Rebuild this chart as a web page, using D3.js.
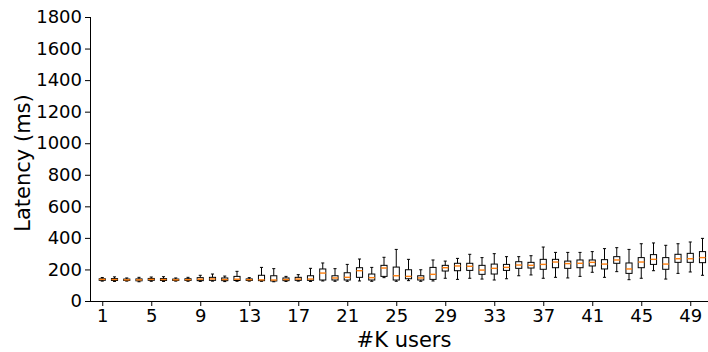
<!DOCTYPE html>
<html>
<head>
<meta charset="utf-8">
<script src="https://cdn.jsdelivr.net/npm/d3@7"></script>
<style>
  html, body { margin: 0; padding: 0; background: #fff; }
  svg { display: block; font-family: "DejaVu Sans", sans-serif; }
</style>
</head>
<body>
<svg id="chart" width="708" height="352"></svg>
<script>
// Data (ms) per #K users, 1..50
const users = d3.range(1, 51);
const whiskerLow = [126,124,126,122,125,124,126,125,124,126,123,125,126,125,122,124,126,124,127,125,125,127,125,148,125,129,125,127,144,137,144,139,133,141,160,165,144,150,146,156,182,150,186,135,144,192,139,175,184,163];
const q1 =         [131,130,130,128,131,130,130,130,129,131,129,130,130,129,127,129,131,131,133,133,133,150,133,156,133,141,133,137,190,192,194,169,171,194,207,209,201,211,207,211,222,203,239,175,211,232,201,245,245,243];
const median =     [137,136,134,134,137,136,134,135,138,140,136,138,135,134,133,136,139,139,177,146,150,192,148,209,160,156,146,169,211,222,220,196,207,213,228,226,232,247,237,239,245,234,260,203,247,264,234,268,268,275];
const q3 =         [141,142,139,140,143,142,139,141,148,150,146,156,140,163,160,146,150,160,203,160,179,211,171,226,215,198,160,213,226,239,239,226,234,232,249,245,264,264,253,260,260,262,281,241,275,294,275,296,302,313];
const whiskerHigh =[149,153,146,150,152,154,146,150,163,171,158,188,148,213,205,156,167,207,241,205,232,266,213,277,327,264,198,260,253,270,296,275,300,281,281,287,342,308,308,308,313,332,338,327,363,368,353,363,374,397];
const xTicks = [1,5,9,13,17,21,25,29,33,37,41,45,49];
const yTicks = [0,200,400,600,800,1000,1200,1400,1600,1800];

const data = users.map((u, i) => ({
  u, lo: whiskerLow[i], q1: q1[i], med: median[i], q3: q3[i], hi: whiskerHigh[i]
}));

const svg = d3.select("#chart");
const mLeft = 90, mBottom = 301, mTop = 17;
const unit = 12.25;
const x = d3.scaleLinear().domain([0, 51]).range([mLeft, mLeft + 51 * unit]);
const y = d3.scaleLinear().domain([0, 1800]).range([mBottom, mTop]);

const boxW = 0.5 * unit;
const capW = boxW / 2;

const g = svg.append("g");
const boxes = g.selectAll("g.box").data(data).enter().append("g").attr("class", "box");

// whiskers
boxes.append("line")
  .attr("x1", d => x(d.u)).attr("x2", d => x(d.u))
  .attr("y1", d => y(d.q3)).attr("y2", d => y(d.hi))
  .attr("stroke", "#000").attr("stroke-width", 1);
boxes.append("line")
  .attr("x1", d => x(d.u)).attr("x2", d => x(d.u))
  .attr("y1", d => y(d.q1)).attr("y2", d => y(d.lo))
  .attr("stroke", "#000").attr("stroke-width", 1);
// caps
boxes.append("line")
  .attr("x1", d => x(d.u) - capW / 2).attr("x2", d => x(d.u) + capW / 2)
  .attr("y1", d => y(d.hi)).attr("y2", d => y(d.hi))
  .attr("stroke", "#000").attr("stroke-width", 1);
boxes.append("line")
  .attr("x1", d => x(d.u) - capW / 2).attr("x2", d => x(d.u) + capW / 2)
  .attr("y1", d => y(d.lo)).attr("y2", d => y(d.lo))
  .attr("stroke", "#000").attr("stroke-width", 1);
// box
boxes.append("rect")
  .attr("x", d => x(d.u) - boxW / 2)
  .attr("y", d => y(d.q3))
  .attr("width", boxW)
  .attr("height", d => y(d.q1) - y(d.q3))
  .attr("fill", "none").attr("stroke", "#000").attr("stroke-width", 1);
// median
boxes.append("line")
  .attr("x1", d => x(d.u) - boxW / 2).attr("x2", d => x(d.u) + boxW / 2)
  .attr("y1", d => y(d.med)).attr("y2", d => y(d.med))
  .attr("stroke", "#ff7f0e").attr("stroke-width", 1.4);

// axes
const xAxis = d3.axisBottom(x).tickValues(xTicks).tickSize(5).tickPadding(3).tickFormat(d3.format("d"));
const yAxis = d3.axisLeft(y).tickValues(yTicks).tickSize(5).tickPadding(3).tickFormat(d3.format("d"));

const gx = svg.append("g").attr("transform", `translate(0,${mBottom})`).call(xAxis);
const gy = svg.append("g").attr("transform", `translate(${mLeft},0)`).call(yAxis);
[gx, gy].forEach(a => {
  a.selectAll("text").attr("font-size", 18).attr("font-family", "DejaVu Sans").attr("fill", "#000");
  a.selectAll("line").attr("stroke", "#000").attr("stroke-width", 1);
  a.select(".domain").attr("stroke", "#000").attr("stroke-width", 1);
});
gx.select(".domain").attr("d", `M${mLeft},0.5H708`);
gy.select(".domain").attr("d", `M0.5,${mBottom}V${mTop}`);

// labels
svg.append("text")
  .attr("x", 404).attr("y", 347)
  .attr("text-anchor", "middle")
  .attr("font-size", 21)
  .text("#K users");
svg.append("text")
  .attr("transform", `translate(30,${(mTop + mBottom) / 2 + 4}) rotate(-90)`)
  .attr("text-anchor", "middle")
  .attr("font-size", 21)
  .text("Latency (ms)");
</script>
</body>
</html>
